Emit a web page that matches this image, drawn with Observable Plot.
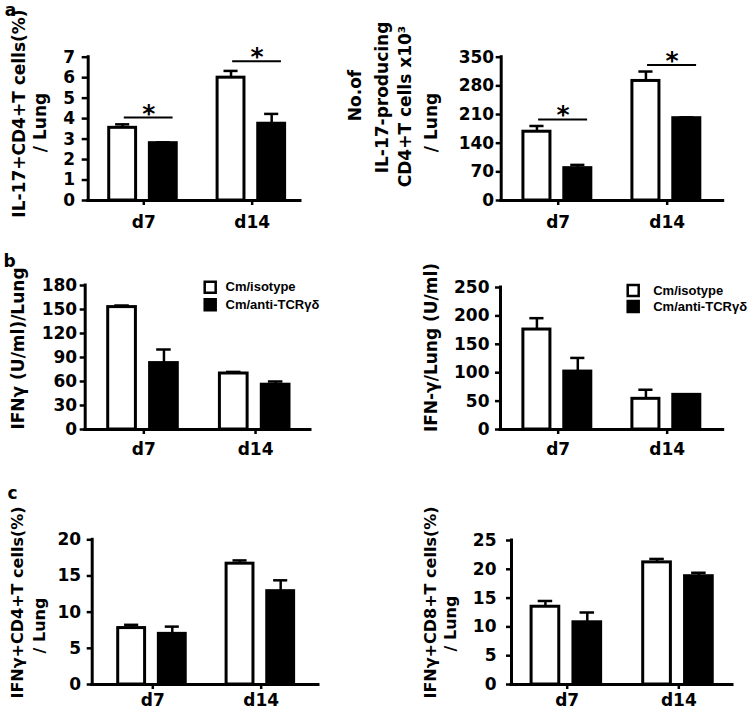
<!DOCTYPE html>
<html><head><meta charset="utf-8">
<script src="https://cdn.jsdelivr.net/npm/d3@7"></script>
<script src="https://cdn.jsdelivr.net/npm/@observablehq/plot@0.6"></script>
<style>
body{margin:0;background:#fff;}
#fig{position:relative;width:752px;height:716px;overflow:hidden;background:#fff;}
#fig svg{position:absolute;overflow:visible;background:transparent;}
</style></head><body><div id="fig"></div>
<script>
// ---------- data ----------
const groups = ["d7", "d14"];
const treatments = ["Cm/isotype", "Cm/anti-TCRγδ"];

// a (left): IL-17+CD4+T cells (%) / Lung
const il17PctIso = [3.55, 6.0];
const il17PctIsoErr = [0.17, 0.33];
const il17PctAnti = [2.8, 3.75];
const il17PctAntiErr = [0.04, 0.48];
const il17PctTicks = [0, 1, 2, 3, 4, 5, 6, 7];
const il17PctSig = [4.05, 6.8];

// a (right): No. of IL-17-producing CD4+T cells x10^3 / Lung
const il17NumIso = [168, 292];
const il17NumIsoErr = [14, 23];
const il17NumAnti = [79, 201];
const il17NumAntiErr = [8, 2];
const il17NumTicks = [0, 70, 140, 210, 280, 350];
const il17NumSig = [198, 331];

// b (left): IFNγ (U/ml)/Lung
const ifngAIso = [153, 70];
const ifngAIsoErr = [2, 2];
const ifngAAnti = [83, 56];
const ifngAAntiErr = [17, 4];
const ifngATicks = [0, 30, 60, 90, 120, 150, 180];

// b (right): IFN-γ/Lung (U/ml)
const ifngBIso = [176, 54];
const ifngBIsoErr = [20, 16];
const ifngBAnti = [102, 61];
const ifngBAntiErr = [24, 1];
const ifngBTicks = [0, 50, 100, 150, 200, 250];

// c (left): IFNγ+CD4+T cells (%) / Lung
const cd4Iso = [7.8, 16.7];
const cd4IsoErr = [0.45, 0.45];
const cd4Anti = [7.0, 12.9];
const cd4AntiErr = [1.0, 1.5];
const cd4Ticks = [0, 5, 10, 15, 20];

// c (right): IFNγ+CD8+T cells (%) / Lung
const cd8Iso = [13.5, 21.2];
const cd8IsoErr = [1.0, 0.6];
const cd8Anti = [10.8, 18.8];
const cd8AntiErr = [1.7, 0.6];
const cd8Ticks = [0, 5, 10, 15, 20, 25];

// ---------- layout constants ----------
const OFF = [-0.195, 0.18];   // bar offsets from group tick
const BAR_HALF = 0.124;
const CAP = 0.065;
const SIG_L = -0.18, SIG_R = 0.27;
const FONT = "DejaVu Sans";

function buildRows(iso, isoErr, anti, antiErr) {
  const out = [];
  groups.forEach((g, i) => {
    out.push({group: g, treatment: treatments[0], value: iso[i], err: isoErr[i]});
    out.push({group: g, treatment: treatments[1], value: anti[i], err: antiErr[i]});
  });
  return out;
}
const pos = d => groups.indexOf(d.group) + OFF[treatments.indexOf(d.treatment)];

function makePanel(cfg) {
  const {ml, mr, mt, mb, H} = cfg;
  const rows = buildRows(...cfg.series);
  const marks = [
    Plot.rect(rows, {x1: d => pos(d) - BAR_HALF, x2: d => pos(d) + BAR_HALF, y1: 0, y2: "value",
      fill: "treatment", stroke: "black", strokeWidth: 3}),
    Plot.ruleX(rows, {x: pos, y1: "value", y2: d => d.value + d.err, strokeWidth: 2.5}),
    Plot.ruleY(rows, {y: d => d.value + d.err, x1: d => pos(d) - CAP, x2: d => pos(d) + CAP, strokeWidth: 2.5}),
    Plot.ruleY([0], {strokeWidth: 3, strokeLinecap: "square"}),
    Plot.ruleX([cfg.xDomain[0]], {strokeWidth: 3, strokeLinecap: "square"}),
    Plot.axisY({ticks: cfg.ticks, tickFormat: d => String(d), tickSize: cfg.yTickSize, tickPadding: cfg.yTickPad,
      strokeWidth: 2.5, fontSize: 17, fontWeight: "bold", label: null}),
    Plot.axisX({ticks: groups.map((g, i) => i), tickFormat: i => groups[i], tickSize: 5,
      tickPadding: cfg.xTickPad, strokeWidth: 2.5, fontSize: 17, fontWeight: "bold", label: null})
  ];
  if (cfg.sig) {
    const sigRows = cfg.sig.map((lv, i) => ({gi: i, level: lv}));
    marks.push(Plot.ruleY(sigRows, {y: "level", x1: d => d.gi + SIG_L, x2: d => d.gi + SIG_R, strokeWidth: 2}));
    marks.push(Plot.text(sigRows, {x: d => d.gi + (SIG_L + SIG_R) / 2, y: "level", text: () => "*",
      fontSize: 25, fontWeight: "bold", dy: -4}));
  }
  for (const t of cfg.titles) {
    marks.push(Plot.text([t[0]], {frameAnchor: "top-left", dx: t[1] - ml, dy: t[2] - mt, rotate: -90,
      textAnchor: "middle", lineAnchor: "middle", fontSize: t[3], fontWeight: "bold"}));
  }
  if (cfg.letter) {
    marks.push(Plot.text([cfg.letter[0]], {frameAnchor: "top-left", dx: cfg.letter[1] - ml, dy: cfg.letter[2] - mt,
      textAnchor: "middle", lineAnchor: "middle", fontSize: 17, fontWeight: "bold"}));
  }
  if (cfg.legend) {
    const [lx, ly, tx, step] = cfg.legend;
    treatments.forEach((tr, i) => {
      marks.push(Plot.dot([tr], {frameAnchor: "top-left", dx: lx - ml, dy: ly + i * step - mt, symbol: "square",
        r: 6.2, fill: d => d, stroke: "black", strokeWidth: 2.5}));
      marks.push(Plot.text([tr], {frameAnchor: "top-left", dx: tx - ml, dy: ly + i * step - mt,
        textAnchor: "start", lineAnchor: "middle", fontSize: 13, fontWeight: "bold", fontFamily: "Liberation Sans"}));
    });
  }
  const svg = Plot.plot({
    width: 376, height: H,
    marginLeft: ml, marginRight: mr, marginTop: mt, marginBottom: mb,
    x: {domain: cfg.xDomain},
    y: {domain: [0, cfg.ticks[cfg.ticks.length - 1]]},
    color: {domain: treatments, range: ["white", "black"]},
    style: {fontFamily: FONT, fontWeight: "bold", fontSize: "17px", overflow: "visible", background: "transparent", color: "black"},
    marks
  });
  svg.style.left = cfg.left + "px";
  svg.style.top = cfg.top + "px";
  document.getElementById("fig").appendChild(svg);
}

const panels = [
  {left: 0, top: 0, H: 240, ml: 87.7, mr: 76, mt: 56.7, mb: 40, xDomain: [-0.513, 1.446],
   series: [il17PctIso, il17PctIsoErr, il17PctAnti, il17PctAntiErr], ticks: il17PctTicks, sig: il17PctSig,
   yTickSize: 6, yTickPad: 7, xTickPad: 10,
   titles: [["IL-17+CD4+T cells(%)", 19, 113, 17], ["/ Lung", 40, 122, 17]], letter: ["a", 10, 10]},
  {left: 376, top: 0, H: 240, ml: 124.7, mr: 29.3, mt: 56.7, mb: 40, xDomain: [-0.523, 1.514],
   series: [il17NumIso, il17NumIsoErr, il17NumAnti, il17NumAntiErr], ticks: il17NumTicks, sig: il17NumSig,
   yTickSize: 5, yTickPad: 2, xTickPad: 10,
   titles: [["No.of", -21, 95, 17], ["IL-17-producing", 6, 97, 17], ["CD4+T cells x10³", 29, 106, 17], ["/ Lung", 55, 122, 17]]},
  {left: 0, top: 240, H: 236, ml: 84.7, mr: 66, mt: 45, mb: 47, xDomain: [-0.525, 1.492],
   series: [ifngAIso, ifngAIsoErr, ifngAAnti, ifngAAntiErr], ticks: ifngATicks,
   yTickSize: 5, yTickPad: 3, xTickPad: 8,
   titles: [["IFNγ (U/ml)/Lung", 18, 108, 17]], letter: ["b", 9, 21], legend: [209.7, 46.7, 225, 17.6]},
  {left: 376, top: 240, H: 236, ml: 124, mr: 29.3, mt: 47, mb: 47, xDomain: [-0.529, 1.514],
   series: [ifngBIso, ifngBIsoErr, ifngBAnti, ifngBAntiErr], ticks: ifngBTicks,
   yTickSize: 5, yTickPad: 6, xTickPad: 8,
   titles: [["IFN-γ/Lung (U/ml)", 55, 107, 17]], legend: [256.7, 50, 276.7, 16]},
  {left: 0, top: 476, H: 240, ml: 91.7, mr: 58, mt: 63.3, mb: 32, xDomain: [-0.559, 1.529],
   series: [cd4Iso, cd4IsoErr, cd4Anti, cd4AntiErr], ticks: cd4Ticks,
   yTickSize: 5, yTickPad: 6, xTickPad: 4,
   titles: [["IFNγ+CD4+T cells(%)", 17, 126, 16], ["/ Lung", 39, 149, 16]], letter: ["c", 12, 17]},
  {left: 376, top: 476, H: 240, ml: 135, mr: 20, mt: 64, mb: 32, xDomain: [-0.499, 1.481],
   series: [cd8Iso, cd8IsoErr, cd8Anti, cd8AntiErr], ticks: cd8Ticks,
   yTickSize: 5, yTickPad: 10, xTickPad: 4,
   titles: [["IFNγ+CD8+T cells(%)", 54, 126, 16], ["/ Lung", 74, 147, 16]]}
];
panels.forEach(makePanel);
</script></body></html>
